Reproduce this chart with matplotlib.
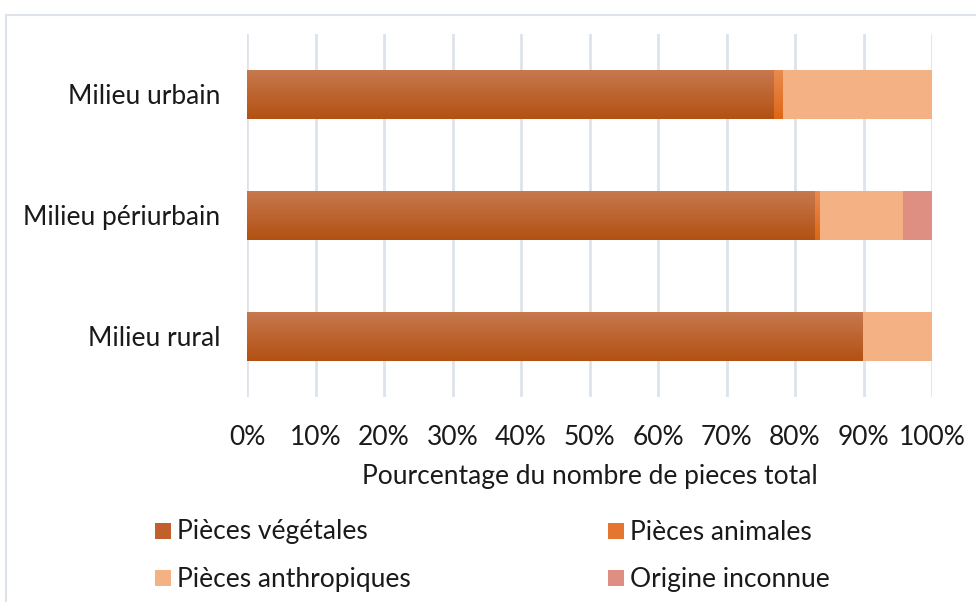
import numpy as np
import matplotlib.pyplot as plt
from matplotlib.patches import Rectangle
from matplotlib.colors import LinearSegmentedColormap

categories = ["Milieu rural", "Milieu périurbain", "Milieu urbain"]
series_names = ["Pièces végétales", "Pièces animales", "Pièces anthropiques", "Origine inconnue"]
vegetales = [89.9, 82.9, 76.9]
animales = [0.0, 0.7, 1.3]
anthropiques = [10.1, 12.2, 21.8]
inconnue = [0.0, 4.2, 0.0]
xticks = [0, 10, 20, 30, 40, 50, 60, 70, 80, 90, 100]

plt.rcParams['font.family'] = ['Lato', 'DejaVu Sans']
text_col = "#1a1a1a"
fs = 19

# gradients (top -> bottom) for the two darker series, flat for the others
styles = [
    ("#c8794f", "#b25113"),
    ("#ea8b52", "#dd6716"),
    ("#f4b183", "#f4b183"),
    ("#df8f82", "#df8f82"),
]

fig = plt.figure(figsize=(9.76, 6.02), dpi=100)
ax = fig.add_axes([247 / 976, 1 - 397 / 602, 685 / 976, 363 / 602])

y = np.arange(len(categories))
left = np.zeros(len(categories))
all_vals = [vegetales, animales, anthropiques, inconnue]
for vals, (c_top, c_bot) in zip(all_vals, styles):
    bars = ax.barh(y, vals, left=left, height=0.41, color=c_bot, linewidth=0, zorder=2)
    if c_top != c_bot:
        cmap = LinearSegmentedColormap.from_list("g", [c_bot, c_top])
        grad = np.linspace(0, 1, 64).reshape(-1, 1)
        for b in bars:
            if b.get_width() <= 0:
                continue
            x0, y0 = b.get_x(), b.get_y()
            im = ax.imshow(grad, cmap=cmap, aspect="auto", origin="lower",
                           extent=(x0, x0 + b.get_width(), y0, y0 + b.get_height()),
                           zorder=2.5)
            im.set_clip_path(b)
    left = left + np.array(vals)

ax.set_xlim(0, 100)
ax.set_ylim(-0.5, 2.5)
ax.set_xticks(xticks)
ax.set_xticklabels([f"{t}%" for t in xticks], fontsize=fs, color=text_col)
ax.set_yticks(y)
ax.set_yticklabels(categories, fontsize=fs, color=text_col)
ax.tick_params(axis="x", length=0, pad=20)
ax.tick_params(axis="y", length=0, pad=19)
ax.grid(axis="x", color="#dde3ea", linewidth=2, zorder=0)
ax.set_axisbelow(True)
for s in ax.spines.values():
    s.set_visible(False)
ax.set_xlabel("Pourcentage du nombre de pieces total", fontsize=fs, color=text_col, labelpad=10)

# outer chart frame (cut off on right and bottom)
fig.patches.append(Rectangle((6 / 976, -0.05), 1.2, 1 - 15 / 602 + 0.05, transform=fig.transFigure,
                             fill=False, edgecolor="#dde3ea", linewidth=1.5))

# legend
leg_pos = [(155, 531), (608, 531), (155, 578), (608, 578)]
for name, (c_top, c_bot), (lx, ly) in zip(series_names, styles, leg_pos):
    mid = c_bot if c_top == c_bot else "#c0602a" if name == series_names[0] else "#e5762f"
    fig.patches.append(Rectangle((lx / 976, 1 - (ly + 8) / 602), 16 / 976, 16 / 602,
                                 transform=fig.transFigure, facecolor=mid, edgecolor="none"))
    fig.text((lx + 22) / 976, 1 - (ly + 1) / 602, name, fontsize=fs, color=text_col, va="center")

fig.savefig("out.png", dpi=100)
